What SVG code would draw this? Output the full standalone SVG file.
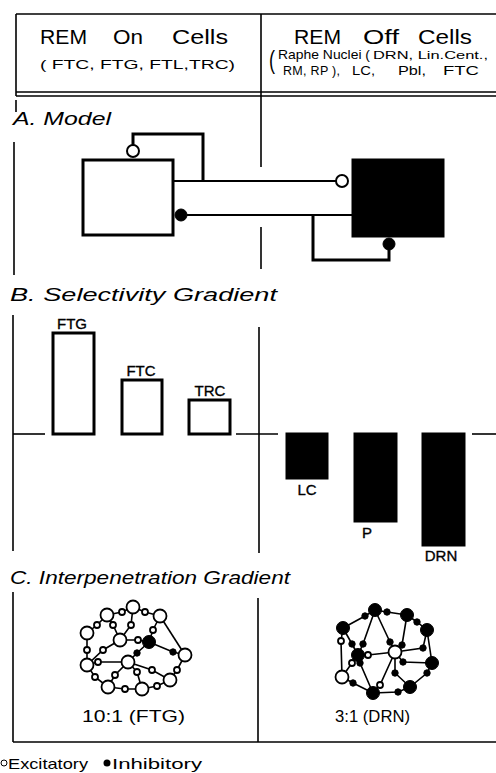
<svg xmlns="http://www.w3.org/2000/svg" width="496" height="773" viewBox="0 0 496 773">
<style>
.t{font-family:"Liberation Sans",Arial,sans-serif;fill:#000}
.h{font-size:21px}
.s{font-size:13px}
.lb{font-size:15px;stroke:#000;stroke-width:0.35}
.it{font-family:"Liberation Sans",Arial,sans-serif;font-style:italic;fill:#000;font-size:19px}
.fr{stroke:#000;stroke-width:1.6;fill:none}
.wire{stroke:#000;stroke-width:2;fill:none}
.loop{stroke:#000;stroke-width:3;fill:none}
.ob{fill:#fff;stroke:#000;stroke-width:3}
.fb{fill:#000;stroke:#000;stroke-width:3}
.oc{fill:#fff;stroke:#000;stroke-width:2}
.fc{fill:#000;stroke:#000;stroke-width:1}
.e{stroke:#000;stroke-width:1.6;fill:none}
.no{fill:#fff;stroke:#000;stroke-width:1.8}
.nf{fill:#000;stroke:#000;stroke-width:1}
</style>
<rect width="496" height="773" fill="#fff"/>

<!-- frame lines -->
<g id="frame">
  <line class="fr" x1="16" y1="14" x2="496" y2="14"/>
  <line class="fr" x1="16" y1="14" x2="16" y2="96"/>
  <line class="fr" x1="16" y1="100" x2="16" y2="112"/>
  <line class="fr" x1="16" y1="92" x2="496" y2="92"/>
  <line class="fr" x1="16" y1="96" x2="496" y2="96"/>
  <line class="fr" x1="261" y1="14" x2="261" y2="167"/>
  <line class="fr" x1="261" y1="227" x2="261" y2="269"/>
  <line class="fr" x1="14" y1="142" x2="14" y2="275"/>
  <line class="fr" x1="13" y1="315" x2="13" y2="551"/>
  <line class="fr" x1="259" y1="327" x2="259" y2="553"/>
  <line class="fr" x1="13" y1="592" x2="13" y2="742"/>
  <line class="fr" x1="258" y1="598" x2="258" y2="742"/>
  <line class="fr" x1="13" y1="742" x2="496" y2="742"/>
  <line class="fr" x1="13" y1="434" x2="45" y2="434"/>
  <line class="fr" x1="236" y1="434" x2="278" y2="434"/>
  <line class="fr" x1="472" y1="434" x2="496" y2="434"/>
</g>

<!-- header -->
<g id="header-on">
  <text class="t h" x="40" y="44" textLength="47" lengthAdjust="spacingAndGlyphs">REM</text>
  <text class="t h" x="113" y="44" textLength="30" lengthAdjust="spacingAndGlyphs">On</text>
  <text class="t h" x="172" y="44" textLength="56" lengthAdjust="spacingAndGlyphs">Cells</text>
  <text class="t" x="40" y="69" font-size="13.5" textLength="195" lengthAdjust="spacingAndGlyphs">( FTC, FTG, FTL,TRC)</text>
</g>
<g id="header-off">
  <text class="t h" x="294" y="44" textLength="47" lengthAdjust="spacingAndGlyphs">REM</text>
  <text class="t h" x="363" y="44" textLength="36" lengthAdjust="spacingAndGlyphs">Off</text>
  <text class="t h" x="418" y="44" textLength="54" lengthAdjust="spacingAndGlyphs">Cells</text>
  <text class="t" x="269" y="69" font-size="26" textLength="6" lengthAdjust="spacingAndGlyphs">(</text>
  <text class="t s" x="278" y="59" textLength="92" lengthAdjust="spacingAndGlyphs">Raphe Nuclei (</text>
  <text class="t" x="373" y="59" font-size="11.5" textLength="115" lengthAdjust="spacingAndGlyphs">DRN, Lin.Cent.,</text>
  <text class="t" x="283" y="75" font-size="12.5" textLength="57" lengthAdjust="spacing">RM, RP ),</text>
  <text class="t" x="352" y="75" font-size="12.5" textLength="23" lengthAdjust="spacingAndGlyphs">LC,</text>
  <text class="t" x="398" y="75" font-size="12.5" textLength="28" lengthAdjust="spacingAndGlyphs">Pbl,</text>
  <text class="t" x="443" y="75" font-size="12.5" textLength="36" lengthAdjust="spacingAndGlyphs">FTC</text>
</g>

<!-- section titles -->
<text class="it" x="13" y="125" textLength="98" lengthAdjust="spacingAndGlyphs">A. Model</text>
<text class="it" x="10" y="301" textLength="267" lengthAdjust="spacingAndGlyphs">B. Selectivity  Gradient</text>
<text class="it" x="10" y="584" textLength="280" lengthAdjust="spacingAndGlyphs">C. Interpenetration  Gradient</text>

<!-- A. Model -->
<g id="on-cell"><rect class="ob" x="83" y="160" width="90" height="75"/></g>
<g id="off-cell"><rect class="fb" x="353" y="160" width="90" height="76"/></g>
<g id="connectors">
  <polyline class="loop" points="133,145 133,134 203,134 203,181"/>
  <line class="wire" x1="173" y1="181" x2="336" y2="181"/>
  <line class="wire" x1="187" y1="215" x2="353" y2="215" stroke-width="2.5"/>
  <polyline class="loop" points="313,215 313,260 389,260 389,249"/>
  <circle class="oc" cx="133" cy="151" r="6"/>
  <circle class="oc" cx="342" cy="181" r="6"/>
  <circle class="fc" cx="181" cy="215" r="6"/>
  <circle class="fc" cx="389" cy="244" r="6"/>
</g>

<!-- B. Selectivity gradient bars -->
<g id="bar-ftg">
  <rect class="ob" x="53" y="333" width="41" height="101"/>
  <text class="t lb" x="72" y="329" text-anchor="middle">FTG</text>
</g>
<g id="bar-ftc">
  <rect class="ob" x="122" y="380" width="40" height="54"/>
  <text class="t lb" x="141" y="376" text-anchor="middle">FTC</text>
</g>
<g id="bar-trc">
  <rect class="ob" x="189" y="400" width="41" height="34"/>
  <text class="t lb" x="210" y="396" text-anchor="middle">TRC</text>
</g>
<g id="bar-lc">
  <rect class="fb" x="287" y="434" width="40" height="44"/>
  <text class="t lb" x="307" y="495" text-anchor="middle">LC</text>
</g>
<g id="bar-p">
  <rect class="fb" x="355" y="434" width="41" height="87"/>
  <text class="t lb" x="367" y="538" text-anchor="middle">P</text>
</g>
<g id="bar-drn">
  <rect class="fb" x="423" y="434" width="41" height="111"/>
  <text class="t lb" x="441" y="561" text-anchor="middle">DRN</text>
</g>

<!-- C. FTG network -->
<g id="net-ftg">
  <g class="e">
    <polyline points="133,607 122,612 107,615"/>
    <polyline points="133,607 145,612 160,616"/>
    <polyline points="107,615 97,625 87,633"/>
    <polyline points="107,615 113,625 120,640"/>
    <polyline points="133,607 131,625 120,640"/>
    <polyline points="87,633 87,650 87,665"/>
    <polyline points="120,640 138,640 149,642"/>
    <polyline points="149,642 153,630 160,616"/>
    <polyline points="160,616 185,655"/>
    <polyline points="149,642 173,652 185,655"/>
    <polyline points="149,642 137,653 128,662"/>
    <polyline points="120,640 103,650 87,665"/>
    <polyline points="87,665 98,662 128,662"/>
    <polyline points="87,665 95,677 108,687"/>
    <polyline points="108,687 125,689 142,689"/>
    <polyline points="142,689 157,686 170,680"/>
    <polyline points="170,680 177,670 185,655"/>
    <polyline points="128,662 115,675 108,687"/>
    <polyline points="128,662 137,672 142,689"/>
    <polyline points="128,662 152,670 170,680"/>
  </g>
  <g class="no">
    <circle cx="133" cy="607" r="6.5"/><circle cx="107" cy="615" r="6.5"/>
    <circle cx="87" cy="633" r="6.5"/><circle cx="120" cy="640" r="6.5"/>
    <circle cx="160" cy="616" r="6.5"/><circle cx="185" cy="655" r="6.5"/>
    <circle cx="87" cy="665" r="6.5"/><circle cx="128" cy="662" r="6.5"/>
    <circle cx="170" cy="680" r="6.5"/><circle cx="108" cy="687" r="6.5"/>
    <circle cx="142" cy="689" r="6.5"/>
    <circle cx="122" cy="612" r="3"/><circle cx="145" cy="612" r="3"/>
    <circle cx="97" cy="625" r="3"/><circle cx="113" cy="625" r="3"/>
    <circle cx="131" cy="625" r="3"/><circle cx="87" cy="650" r="3"/>
    <circle cx="138" cy="640" r="3"/><circle cx="153" cy="630" r="3"/>
    <circle cx="103" cy="650" r="3"/><circle cx="98" cy="662" r="3"/>
    <circle cx="95" cy="677" r="3"/><circle cx="125" cy="689" r="3"/>
    <circle cx="157" cy="686" r="3"/><circle cx="177" cy="670" r="3"/>
    <circle cx="115" cy="675" r="3"/><circle cx="137" cy="672" r="3"/>
    <circle cx="152" cy="670" r="3"/>
  </g>
  <g class="nf">
    <circle cx="149" cy="642" r="6.5"/>
    <circle cx="137" cy="653" r="3.2"/><circle cx="173" cy="652" r="3.2"/>
  </g>
  <text class="t" x="82" y="722" font-size="16" textLength="103" lengthAdjust="spacingAndGlyphs">10:1  (FTG)</text>
</g>

<!-- C. DRN network -->
<g id="net-drn">
  <g class="e">
    <polyline points="343,628 365,616 375,610"/>
    <polyline points="375,610 387,612 407,615"/>
    <polyline points="407,615 417,622 427,630"/>
    <polyline points="427,630 432,663"/>
    <polyline points="432,663 427,673 410,687"/>
    <polyline points="410,687 398,692 373,693"/>
    <polyline points="373,693 353,683 342,677"/>
    <polyline points="342,677 341,641 343,628"/>
    <polyline points="343,628 352,644 358,655"/>
    <polyline points="375,610 363,644 358,655"/>
    <polyline points="358,655 368,655 395,652"/>
    <polyline points="358,655 352,663 342,677"/>
    <polyline points="358,655 360,663 373,693"/>
    <polyline points="395,652 390,642 375,610"/>
    <polyline points="395,652 402,645 407,615"/>
    <polyline points="395,652 423,648 427,630"/>
    <polyline points="395,652 403,662 432,663"/>
    <polyline points="395,652 395,673 410,687"/>
    <polyline points="395,652 380,685 373,693"/>
  </g>
  <g class="nf">
    <circle cx="375" cy="610" r="6.5"/><circle cx="407" cy="615" r="6.5"/>
    <circle cx="343" cy="628" r="6.5"/><circle cx="427" cy="630" r="6.5"/>
    <circle cx="358" cy="655" r="6.5"/><circle cx="432" cy="663" r="6.5"/>
    <circle cx="410" cy="687" r="6.5"/><circle cx="373" cy="693" r="6.5"/>
    <circle cx="365" cy="616" r="3.2"/><circle cx="387" cy="612" r="3.2"/>
    <circle cx="417" cy="622" r="3.2"/><circle cx="352" cy="644" r="3.2"/>
    <circle cx="363" cy="644" r="3.2"/><circle cx="390" cy="642" r="3.2"/>
    <circle cx="402" cy="645" r="3.2"/><circle cx="423" cy="648" r="3.2"/>
    <circle cx="403" cy="662" r="3.2"/><circle cx="427" cy="673" r="3.2"/>
    <circle cx="395" cy="673" r="3.2"/><circle cx="398" cy="692" r="3.2"/>
    <circle cx="353" cy="683" r="3.2"/><circle cx="360" cy="663" r="3.2"/>
  </g>
  <g class="no">
    <circle cx="395" cy="652" r="6.5"/><circle cx="342" cy="677" r="6.5"/>
    <circle cx="341" cy="641" r="3"/><circle cx="368" cy="655" r="3"/>
    <circle cx="352" cy="663" r="3"/><circle cx="380" cy="685" r="3"/>
  </g>
  <text class="t" x="335" y="722" font-size="16" textLength="75" lengthAdjust="spacingAndGlyphs">3:1  (DRN)</text>
</g>

<!-- legend -->
<g id="legend">
  <circle cx="4" cy="763" r="3" fill="#fff" stroke="#000" stroke-width="1"/>
  <text class="t" x="8" y="769" font-size="15" textLength="80" lengthAdjust="spacingAndGlyphs">Excitatory</text>
  <circle cx="107" cy="763" r="3.5" fill="#000"/>
  <text class="t" x="112" y="769" font-size="15" textLength="90" lengthAdjust="spacingAndGlyphs">Inhibitory</text>
</g>
</svg>
